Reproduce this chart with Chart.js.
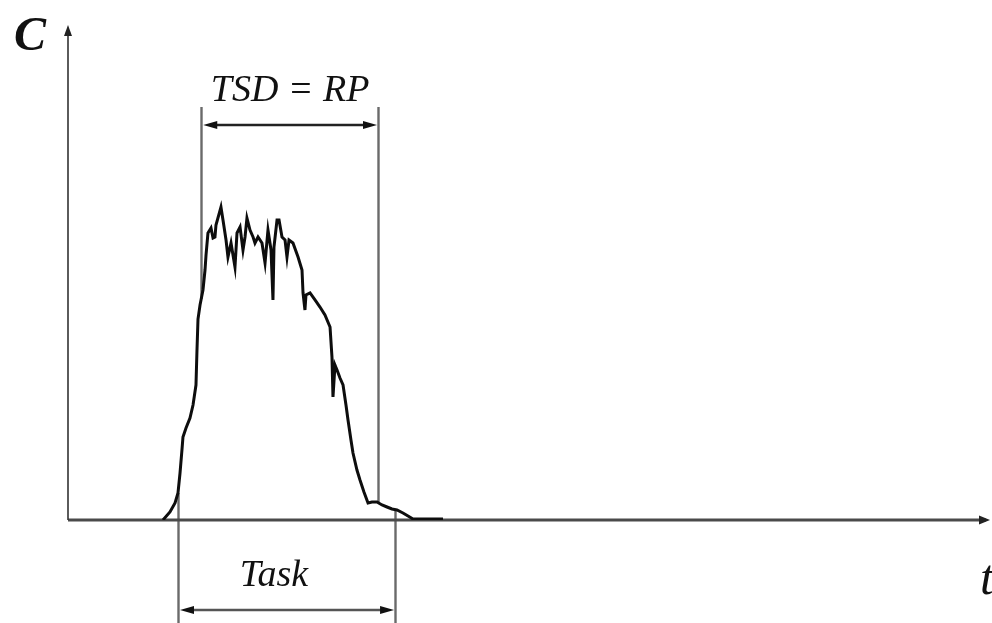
<!DOCTYPE html>
<html><head><meta charset="utf-8">
<script src="https://cdn.jsdelivr.net/npm/chart.js@4"></script>
<style>html,body{margin:0;padding:0;background:#fff;overflow:hidden}canvas{display:block}</style>
</head><body>
<canvas id="c" width="992" height="623"></canvas>
<script>
// Time axis values (arbitrary units, 0..100)
const timeValues = [10.30,11.06,11.61,11.93,12.15,12.36,12.47,12.80,13.23,13.56,13.88,13.99,14.10,14.32,14.64,14.86,14.97,15.18,15.51,15.73,15.94,16.05,16.59,16.81,17.14,17.35,17.68,18.11,18.33,18.66,18.98,19.20,19.41,19.74,20.07,20.28,20.61,21.04,21.37,21.69,22.02,22.23,22.34,22.67,22.89,23.21,23.54,23.75,23.97,24.40,24.95,25.38,25.49,25.70,25.81,26.25,26.79,27.33,27.87,28.42,28.63,28.74,28.96,29.18,29.50,29.83,30.15,30.37,30.69,30.91,31.34,31.67,32.10,32.54,32.97,33.51,34.06,34.60,35.14,35.68,36.33,36.88,37.42,38.18,40.67];
// Concentration values (arbitrary units, 0..100)
const concValues = [0,1.63,3.46,5.49,9.55,14.23,16.87,18.70,20.73,23.37,27.44,34.55,40.85,43.70,46.75,50.81,53.86,58.33,59.35,57.32,57.52,59.96,63.62,60.98,56.91,53.46,56.30,51.42,58.33,59.55,54.88,57.52,61.38,58.94,57.52,56.30,57.52,56.30,52.24,58.94,54.88,44.72,55.49,60.98,60.98,57.52,56.91,53.46,56.91,56.30,53.46,50.81,46.14,42.68,45.73,46.14,44.72,43.29,41.67,39.23,33.13,25.00,31.50,30.49,28.86,27.44,23.37,20.33,16.26,13.62,10.16,8.13,5.69,3.46,3.66,3.66,3.05,2.64,2.24,2.03,1.42,0.81,0.20,0.20,0.20];
// Interval annotations
const intervalLabels = ['TSD = RP', 'Task'];
const intervalStart = [14.45, 11.93];
const intervalEnd = [33.62, 35.47];
// Axis labels
const axisLabels = ['C', 't'];

const points = timeValues.map((t, i) => ({x: t, y: concValues[i]}));

function curveAt(t) {
  for (let i = 0; i < timeValues.length - 1; i++) {
    const a = timeValues[i], b = timeValues[i+1];
    if (t >= a && t <= b) {
      const f = (t - a) / (b - a);
      return concValues[i] + f * (concValues[i+1] - concValues[i]);
    }
  }
  return 0;
}

function arrowHead(ctx, x, y, dx, dy, len, hw, color) {
  ctx.save();
  ctx.fillStyle = color;
  ctx.beginPath();
  ctx.moveTo(x, y);
  ctx.lineTo(x - dx*len - dy*hw, y - dy*len + dx*hw);
  ctx.lineTo(x - dx*len + dy*hw, y - dy*len - dx*hw);
  ctx.closePath();
  ctx.fill();
  ctx.restore();
}

const decor = {
  id: 'decor',
  beforeDatasetsDraw(chart) {
    const ctx = chart.ctx, a = chart.chartArea;
    const xs = chart.scales.x, ys = chart.scales.y;
    ctx.save();
    ctx.strokeStyle = '#6a6a6a';
    ctx.lineWidth = 2.4;
    [intervalStart[0], intervalEnd[0]].forEach(t => {
      const px = Math.round(xs.getPixelForValue(t)) + 0.5;
      ctx.beginPath();
      ctx.moveTo(px, 107);
      ctx.lineTo(px, ys.getPixelForValue(curveAt(t)));
      ctx.stroke();
    });
    [intervalStart[1], intervalEnd[1]].forEach(t => {
      const px = Math.round(xs.getPixelForValue(t)) + 0.5;
      ctx.beginPath();
      ctx.moveTo(px, ys.getPixelForValue(curveAt(t)));
      ctx.lineTo(px, chart.height);
      ctx.stroke();
    });
    ctx.strokeStyle = '#4a4a4a';
    ctx.lineWidth = 3;
    ctx.beginPath();
    ctx.moveTo(a.left, a.bottom);
    ctx.lineTo(a.right - 4, a.bottom);
    ctx.stroke();
    arrowHead(ctx, a.right, a.bottom, 1, 0, 11, 4.5, '#222');
    ctx.strokeStyle = '#333';
    ctx.lineWidth = 1.6;
    ctx.beginPath();
    ctx.moveTo(a.left, a.bottom);
    ctx.lineTo(a.left, a.top + 6);
    ctx.stroke();
    arrowHead(ctx, a.left, a.top - 3, 0, -1, 11, 4, '#222');
    ctx.restore();
  },
  afterDraw(chart) {
    const ctx = chart.ctx;
    const xs = chart.scales.x;
    ctx.save();
    const arrowY = [125, 610];
    const textY = [101, 586];
    const colors = ['#222', '#555'];
    for (let i = 0; i < intervalLabels.length; i++) {
      const x1 = xs.getPixelForValue(intervalStart[i]) + 2;
      const x2 = xs.getPixelForValue(intervalEnd[i]) - 1;
      ctx.strokeStyle = colors[i];
      ctx.lineWidth = 2.4;
      ctx.beginPath();
      ctx.moveTo(x1 + 8, arrowY[i]);
      ctx.lineTo(x2 - 8, arrowY[i]);
      ctx.stroke();
      arrowHead(ctx, x1, arrowY[i], -1, 0, 14, 4, '#111');
      arrowHead(ctx, x2, arrowY[i], 1, 0, 14, 4, '#111');
      ctx.fillStyle = '#111';
      ctx.font = 'italic 38px "Liberation Serif", serif';
      ctx.textAlign = 'center';
      ctx.textBaseline = 'alphabetic';
      ctx.fillText(intervalLabels[i], (x1 + x2) / 2 - (i === 1 ? 13 : 0), textY[i]);
    }
    ctx.fillStyle = '#111';
    ctx.font = 'italic bold 48px "Liberation Serif", serif';
    ctx.textAlign = 'left';
    ctx.fillText(axisLabels[0], 14, 50);
    ctx.font = 'italic 50px "Liberation Serif", serif';
    ctx.fillText(axisLabels[1], 980, 594);
    ctx.restore();
  }
};

new Chart(document.getElementById('c'), {
  type: 'line',
  data: {
    datasets: [{
      data: points,
      borderColor: '#0d0d0d',
      borderWidth: 3,
      pointRadius: 0,
      tension: 0,
      fill: false
    }]
  },
  options: {
    responsive: false,
    animation: false,
    devicePixelRatio: 1,
    layout: {padding: {left: 68, right: 2, top: 28, bottom: 103}},
    scales: {
      x: {type: 'linear', min: 0, max: 100, display: false},
      y: {min: 0, max: 100, display: false}
    },
    plugins: {legend: {display: false}, tooltip: {enabled: false}}
  },
  plugins: [decor]
});
</script>
</body></html>
